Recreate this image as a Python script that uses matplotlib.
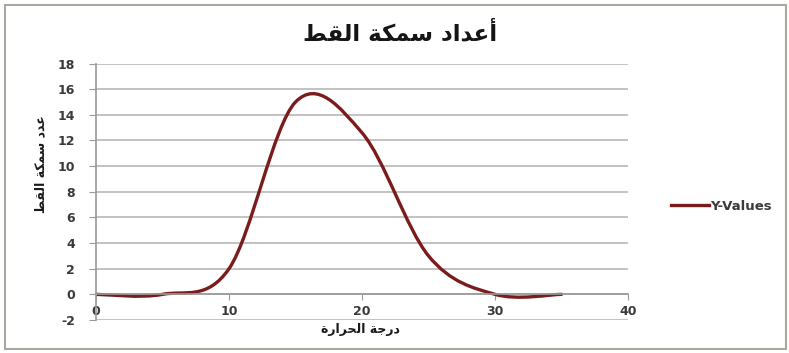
import matplotlib.pyplot as plt
from matplotlib.path import Path
from matplotlib.patches import PathPatch, Rectangle
from matplotlib.lines import Line2D

# temperature vs. catfish count
temps = [0, 5, 10, 15, 20, 25, 30, 35]
counts = [0, 0, 2, 15, 12.6, 3, 0, 0]
yticks = list(range(-2, 19, 2))
xticks = [0, 10, 20, 30, 40]

title = "أعداد سمكة القط"
xlabel = "درجة الحرارة"
ylabel = "عدد سمكة القط"
series_name = "Y-Values"

# arabic presentation forms: isolated, final, initial, medial (None = no join to next)
FORMS = {
    'ا': ('\uFE8D', '\uFE8E', None, None),
    'أ': ('\uFE83', '\uFE84', None, None),
    'د': ('\uFEA9', '\uFEAA', None, None),
    'ر': ('\uFEAD', '\uFEAE', None, None),
    'ة': ('\uFE93', '\uFE94', None, None),
    'ع': ('\uFEC9', '\uFECA', '\uFECB', '\uFECC'),
    'س': ('\uFEB1', '\uFEB2', '\uFEB3', '\uFEB4'),
    'م': ('\uFEE1', '\uFEE2', '\uFEE3', '\uFEE4'),
    'ك': ('\uFED9', '\uFEDA', '\uFEDB', '\uFEDC'),
    'ل': ('\uFEDD', '\uFEDE', '\uFEDF', '\uFEE0'),
    'ق': ('\uFED5', '\uFED6', '\uFED7', '\uFED8'),
    'ط': ('\uFEC1', '\uFEC2', '\uFEC3', '\uFEC4'),
    'ج': ('\uFE9D', '\uFE9E', '\uFE9F', '\uFEA0'),
    'ح': ('\uFEA1', '\uFEA2', '\uFEA3', '\uFEA4'),
}


def shape(text):
    out = []
    for i, ch in enumerate(text):
        if ch not in FORMS:
            out.append(ch)
            continue
        prev = text[i - 1] if i > 0 else ''
        nxt = text[i + 1] if i + 1 < len(text) else ''
        joins_prev = prev in FORMS and FORMS[prev][2] is not None
        joins_next = FORMS[ch][2] is not None and nxt in FORMS
        iso, fin, ini, med = FORMS[ch]
        if joins_prev and joins_next:
            out.append(med)
        elif joins_prev:
            out.append(fin)
        elif joins_next:
            out.append(ini)
        else:
            out.append(iso)
    return ''.join(out)[::-1]


def smooth_path(xs, ys):
    # catmull-rom style bezier through the points, like a spreadsheet smoothed line
    pts = list(zip(xs, ys))
    n = len(pts)
    verts = [pts[0]]
    codes = [Path.MOVETO]
    for i in range(n - 1):
        p0 = pts[i - 1] if i > 0 else pts[i]
        p1 = pts[i]
        p2 = pts[i + 1]
        p3 = pts[i + 2] if i + 2 < n else pts[i + 1]
        c1 = (p1[0] + (p2[0] - p0[0]) / 6, p1[1] + (p2[1] - p0[1]) / 6)
        c2 = (p2[0] - (p3[0] - p1[0]) / 6, p2[1] - (p3[1] - p1[1]) / 6)
        verts += [c1, c2, p2]
        codes += [Path.CURVE4] * 3
    return Path(verts, codes)


plt.rcParams['font.family'] = ['DejaVu Sans']
plt.rcParams['axes.unicode_minus'] = False
line_col = '#7b1c1c'
txt_col = '#3a3a3a'
grid_col = '#b8b8b8'

fig = plt.figure(figsize=(7.89, 3.53), dpi=100)
fig.patches.append(Rectangle((0.006, 0.012), 0.99, 0.975, transform=fig.transFigure,
                             fill=False, edgecolor='#a8a8a0', lw=1.5))
ax = fig.add_axes([0.1217, 0.0935, 0.6743, 0.7265])

ax.add_patch(PathPatch(smooth_path(temps, counts), fill=False, edgecolor=line_col,
                       lw=2.4, transform=ax.transData, capstyle='round'))

ax.set_xlim(0, 40)
ax.set_ylim(-2, 18)
ax.set_xticks(xticks)
ax.set_yticks(yticks)
ax.grid(axis='y', color=grid_col, lw=1.2)
ax.set_axisbelow(True)
for s in ['top', 'right']:
    ax.spines[s].set_visible(False)
ax.spines['bottom'].set_position(('data', 0))
ax.spines['bottom'].set_color('#9a9a9a')
ax.spines['left'].set_color('#9a9a9a')
ax.spines['bottom'].set_linewidth(1.2)
ax.spines['left'].set_linewidth(1.2)
ax.tick_params(axis='y', length=5, color='#9a9a9a', pad=10, labelsize=9, labelcolor=txt_col)
ax.tick_params(axis='x', length=4, color='#9a9a9a', direction='out', pad=4,
               labelsize=9, labelcolor=txt_col)
for lab in ax.get_xticklabels() + ax.get_yticklabels():
    lab.set_fontweight('bold')

fig.text(0.507, 0.905, shape(title), ha='center', va='center', fontsize=16.5,
         fontweight='bold', color='#151515')
fig.text(0.457, 0.066, shape(xlabel), ha='center', va='center', fontsize=9,
         fontweight='bold', color='#1a1a1a')
fig.text(0.052, 0.535, shape(ylabel), ha='center', va='center', fontsize=9,
         fontweight='bold', color='#1a1a1a', rotation=90)

handle = Line2D([], [], color=line_col, lw=2.4)
fig.legend([handle], [series_name], loc='center left', bbox_to_anchor=(0.835, 0.415),
           frameon=False, handlelength=2.9, handletextpad=0.1,
           prop={'weight': 'bold', 'size': 9.5}, labelcolor=txt_col)

fig.savefig('out.png', dpi=100)
